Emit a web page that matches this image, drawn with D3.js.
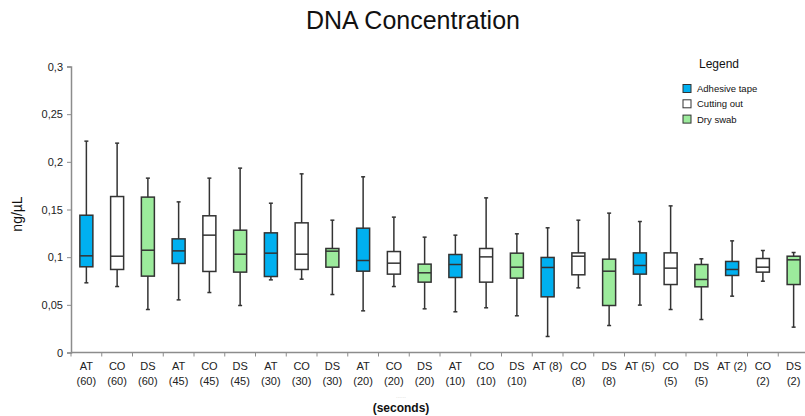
<!DOCTYPE html>
<html>
<head>
<meta charset="utf-8">
<script src="https://cdn.jsdelivr.net/npm/d3@7"></script>
<style>
  body { margin: 0; background: #fff; }
  svg { display: block; font-family: "Liberation Sans", Arial, sans-serif; }
</style>
</head>
<body>
<svg id="chart"></svg>
<script>
const width = 805;
const height = 416;

// categories (method + time in seconds)
const categories = ["AT (60)", "CO (60)", "DS (60)", "AT (45)", "CO (45)", "DS (45)",
    "AT (30)", "CO (30)", "DS (30)", "AT (20)", "CO (20)", "DS (20)",
    "AT (10)", "CO (10)", "DS (10)", "AT (8)", "CO (8)", "DS (8)",
    "AT (5)", "CO (5)", "DS (5)", "AT (2)", "CO (2)", "DS (2)"];
// how the tick labels wrap
const tickLines = [["AT", "(60)"], ["CO", "(60)"], ["DS", "(60)"], ["AT", "(45)"], ["CO", "(45)"], ["DS", "(45)"],
    ["AT", "(30)"], ["CO", "(30)"], ["DS", "(30)"], ["AT", "(20)"], ["CO", "(20)"], ["DS", "(20)"],
    ["AT", "(10)"], ["CO", "(10)"], ["DS", "(10)"], ["AT (8)"], ["CO", "(8)"], ["DS", "(8)"],
    ["AT (5)"], ["CO", "(5)"], ["DS", "(5)"], ["AT (2)"], ["CO", "(2)"], ["DS", "(2)"]];
const methods = ["AT", "CO", "DS", "AT", "CO", "DS", "AT", "CO", "DS", "AT", "CO", "DS",
    "AT", "CO", "DS", "AT", "CO", "DS", "AT", "CO", "DS", "AT", "CO", "DS"];

// box values (ng/µL)
const minV = [0.0731, 0.0692, 0.0451, 0.0552, 0.0629, 0.0493, 0.0762, 0.0769, 0.0608, 0.0437, 0.0692, 0.0458,
    0.0427, 0.0469, 0.0385, 0.0168, 0.0678, 0.0283, 0.0497, 0.0451, 0.0346, 0.0591, 0.0748, 0.0266];
const q1V = [0.0899, 0.0871, 0.0801, 0.0934, 0.0850, 0.0843, 0.0797, 0.0871, 0.0895, 0.0853, 0.0822, 0.0738,
    0.0787, 0.0738, 0.0780, 0.0584, 0.0815, 0.0493, 0.0822, 0.0713, 0.0689, 0.0808, 0.0843, 0.0713];
const medV = [0.1014, 0.1010, 0.1073, 0.1066, 0.1231, 0.1031, 0.1042, 0.1031, 0.1063, 0.0965, 0.0937, 0.0836,
    0.0923, 0.1003, 0.0895, 0.0892, 0.1010, 0.0853, 0.0913, 0.0885, 0.0766, 0.0871, 0.0895, 0.0972];
const q3V = [0.1440, 0.1636, 0.1630, 0.1192, 0.1434, 0.1283, 0.1255, 0.1360, 0.1091, 0.1304, 0.1059, 0.0927,
    0.1028, 0.1091, 0.1042, 0.0997, 0.1045, 0.0979, 0.1045, 0.1045, 0.0923, 0.0955, 0.0986, 0.1010];
const maxV = [0.2217, 0.2196, 0.1829, 0.1580, 0.1829, 0.1934, 0.1566, 0.1874, 0.1388, 0.1843, 0.1420, 0.1210,
    0.1231, 0.1622, 0.1245, 0.1308, 0.1388, 0.1462, 0.1374, 0.1538, 0.0983, 0.1171, 0.1070, 0.1049];

const yTicks = [0, 0.05, 0.1, 0.15, 0.2, 0.25, 0.3];
const legendNames = ["Adhesive tape", "Cutting out", "Dry swab"];
const legendKeys = ["AT", "CO", "DS"];

const fillColor = { AT: "#00b0f0", CO: "#ffffff", DS: "#9ceb9c" };
const axisColor = "#8c8c8c";
const boxStroke = "#333";

const svg = d3.select("#chart")
    .attr("width", width)
    .attr("height", height);

const x = d3.scaleBand()
    .domain(categories)
    .range([71, 809])
    .padding(0);

const y = d3.scaleLinear()
    .domain([0, 0.3])
    .range([352.5, 66.5]);

const fmt = d => String(d).replace(".", ",");

// title
svg.append("text")
    .attr("x", 413)
    .attr("y", 29)
    .attr("text-anchor", "middle")
    .attr("font-size", 25)
    .attr("fill", "#111")
    .text("DNA Concentration");

// y axis
const yAxis = svg.append("g")
    .attr("transform", "translate(71,0)")
    .call(d3.axisLeft(y).tickValues(yTicks).tickFormat(fmt).tickSize(4).tickPadding(4));
yAxis.select(".domain").attr("stroke", axisColor).attr("stroke-width", 1.5);
yAxis.selectAll(".tick line").attr("stroke", axisColor);
yAxis.selectAll(".tick text").attr("font-size", 11).attr("fill", "#222")
    .attr("font-family", "Liberation Sans, Arial, sans-serif");

// x axis: ticks sit between the categories
const xAxis = svg.append("g")
    .attr("transform", `translate(0,${y(0)})`);
xAxis.append("line")
    .attr("x1", x.range()[0]).attr("x2", x.range()[1])
    .attr("stroke", axisColor).attr("stroke-width", 1.5);
xAxis.selectAll(".xtick")
    .data(categories)
    .enter().append("line")
    .attr("x1", d => x(d)).attr("x2", d => x(d))
    .attr("y1", 0).attr("y2", 4)
    .attr("stroke", axisColor);

const labels = svg.append("g")
    .selectAll("text")
    .data(categories)
    .enter().append("text")
    .attr("text-anchor", "middle")
    .attr("font-size", 11)
    .attr("fill", "#222");
labels.each(function(d, i) {
    const t = d3.select(this);
    tickLines[i].forEach((line, j) => {
        t.append("tspan")
            .attr("x", x(d) + x.bandwidth() / 2)
            .attr("y", 370 + j * 15)
            .text(line);
    });
});

// axis titles
svg.append("text")
    .attr("transform", "translate(22,214) rotate(-90)")
    .attr("text-anchor", "middle")
    .attr("font-size", 14)
    .attr("fill", "#111")
    .text("ng/µL");

svg.append("text")
    .attr("x", 401)
    .attr("y", 398)
    .attr("text-anchor", "middle")
    .attr("font-size", 6)
    .attr("fill", "#ccc")
    .text("......");

svg.append("text")
    .attr("x", 401)
    .attr("y", 412)
    .attr("text-anchor", "middle")
    .attr("font-size", 12)
    .attr("font-weight", "bold")
    .attr("fill", "#111")
    .text("(seconds)");

// boxes
const boxW = 13;
const capW = 4;
const boxes = svg.append("g")
    .selectAll("g")
    .data(categories)
    .enter().append("g")
    .attr("transform", d => `translate(${x(d) + x.bandwidth() / 2},0)`);

boxes.append("line")
    .attr("y1", (d, i) => y(maxV[i]))
    .attr("y2", (d, i) => y(minV[i]))
    .attr("stroke", boxStroke)
    .attr("stroke-width", 1.5);

boxes.append("line")
    .attr("x1", -capW / 2).attr("x2", capW / 2)
    .attr("y1", (d, i) => y(maxV[i])).attr("y2", (d, i) => y(maxV[i]))
    .attr("stroke", boxStroke).attr("stroke-width", 1.5);

boxes.append("line")
    .attr("x1", -capW / 2).attr("x2", capW / 2)
    .attr("y1", (d, i) => y(minV[i])).attr("y2", (d, i) => y(minV[i]))
    .attr("stroke", boxStroke).attr("stroke-width", 1.5);

boxes.append("rect")
    .attr("x", -boxW / 2)
    .attr("width", boxW)
    .attr("y", (d, i) => y(q3V[i]))
    .attr("height", (d, i) => y(q1V[i]) - y(q3V[i]))
    .attr("fill", (d, i) => fillColor[methods[i]])
    .attr("stroke", boxStroke)
    .attr("stroke-width", 1.5);

boxes.append("line")
    .attr("x1", -boxW / 2).attr("x2", boxW / 2)
    .attr("y1", (d, i) => y(medV[i])).attr("y2", (d, i) => y(medV[i]))
    .attr("stroke", boxStroke).attr("stroke-width", 1.5);

// legend
const legend = svg.append("g");
legend.append("text")
    .attr("x", 719)
    .attr("y", 68)
    .attr("text-anchor", "middle")
    .attr("font-size", 12)
    .attr("fill", "#111")
    .text("Legend");

const items = legend.selectAll(".item")
    .data(legendNames)
    .enter().append("g")
    .attr("transform", (d, i) => `translate(683,${84.5 + i * 15.3})`);
items.append("rect")
    .attr("width", 8).attr("height", 8)
    .attr("fill", (d, i) => fillColor[legendKeys[i]])
    .attr("stroke", "#333").attr("stroke-width", 1);
items.append("text")
    .attr("x", 14)
    .attr("y", 7.5)
    .attr("font-size", 9.5)
    .attr("fill", "#111")
    .text(d => d);
</script>
</body>
</html>
